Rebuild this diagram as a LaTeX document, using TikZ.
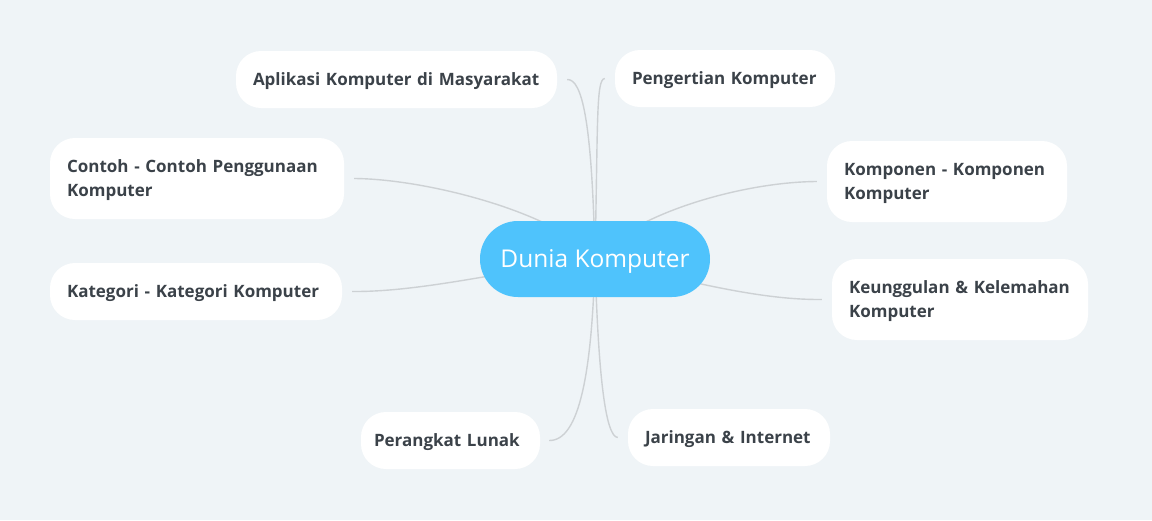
\documentclass[tikz,border=0pt]{standalone}
\usepackage{fontspec}
\setmainfont{Open Sans}
\usetikzlibrary{calc,backgrounds}

\definecolor{canvas}{HTML}{EFF4F7}
\definecolor{rootblue}{HTML}{4FC3FC}
\definecolor{topictext}{HTML}{3B4249}
\definecolor{branch}{HTML}{CDD1D4}

\begin{document}
\begin{tikzpicture}[x=1pt,y=-1pt,
		topic/.style={fill=white, rounded corners=25pt, inner xsep=17pt, inner ysep=0pt,
			minimum height=57pt, text width=#1, text height=16pt, align=left, text=topictext,
			font=\bfseries\fontsize{17}{24}\selectfont},
		topic2/.style={topic=#1, minimum height=81pt},
		branchline/.style={draw=branch, line width=1.4pt}]
		
		\useasboundingbox (0,0) rectangle (1152,520);
		
		% --- Nodes ---
		\node[fill=rootblue, rounded corners=37.9pt, minimum width=230pt, minimum height=76pt,
		text height=22pt, text=white, font=\fontsize{24.5}{28}\selectfont] (root) at (595,259) {Dunia Komputer};
		
		\node[topic=287pt]  (apl) at (396.5,79.5)  {Aplikasi Komputer di Masyarakat};
		\node[topic=186pt]  (pen) at (725,78.5)    {Pengertian Komputer};
		\node[topic2=260pt] (con) at (197,178.5)   {Contoh - Contoh Penggunaan\\Komputer};
		\node[topic2=206pt] (kom) at (947,181.5)   {Komponen - Komponen\\Komputer};
		\node[topic=258pt]  (kat) at (196,291.5)   {Kategori - Kategori Komputer};
		\node[topic2=222pt] (keu) at (960,299.5)   {Keunggulan \& Kelemahan\\Komputer};
		\node[topic=153pt, inner xsep=13pt] (per) at (450.5,440.5) {Perangkat Lunak};
		\node[topic=168pt]  (jar) at (729,437.5)   {Jaringan \& Internet};
		
		% --- Branch ends ---
		\coordinate (aplE) at ($(apl.east)+(10,0)$);
		\coordinate (penE) at ($(pen.west)+(-10,0)$);
		\coordinate (conE) at ($(con.east)+(10,0)$);
		\coordinate (komE) at ($(kom.west)+(-10,0)$);
		\coordinate (katE) at ($(kat.east)+(10,0)$);
		\coordinate (keuE) at ($(keu.west)+(-10,0)$);
		\coordinate (perE) at ($(per.east)+(9,0)$);
		\coordinate (jarE) at ($(jar.west)+(-10,0)$);
		
		% --- Branches ---
		\begin{scope}[on background layer]
			\fill[canvas] (0,0) rectangle (1152,520);
			\path[branchline]
			(root.center) .. controls (592,120) and (582,79) .. (aplE)
			(root.center) .. controls (598,120) and (596,79) .. (penE)
			(root.center) .. controls (562,215) and (430,179) .. (conE)
			(root.center) .. controls (630,215) and (740,182) .. (komE)
			(root.center) .. controls (500,272) and (420,292) .. (katE)
			(root.center) .. controls (690,282) and (760,300) .. (keuE)
			(root.center) .. controls (592,370) and (580,441) .. (perE)
			(root.center) .. controls (598,370) and (605,437) .. (jarE);
		\end{scope}
	\end{tikzpicture}
\end{document}
